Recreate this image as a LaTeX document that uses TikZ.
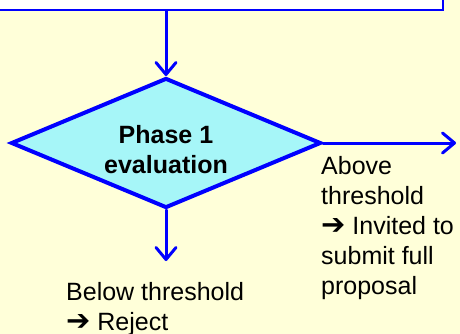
\documentclass[tikz,border=0pt]{standalone}
\usepackage{fontspec}
\setmainfont{Liberation Sans}
\newfontfamily\symfont{DejaVu Sans}
\usepackage{xcolor}
\usepackage{tikz}
\usetikzlibrary{shapes.geometric,arrows.meta,positioning,calc}
\definecolor{paper}{RGB}{255,255,217}
\definecolor{decfill}{RGB}{166,246,248}
\newcommand{\thenarrow}{{\symfont\fontsize{29}{30}\selectfont ➔}}
\tikzset{
	decision/.style={diamond,draw=blue,line width=4pt,fill=decfill,minimum width=310pt,minimum height=130pt,inner sep=0pt},
	flow/.style={draw=blue,line width=3pt,line cap=round,-{Straight Barb[length=12pt,width=20pt,round]}},
	outcome/.style={align=left,inner sep=0pt,font=\fontsize{25}{30}\selectfont}
}
\begin{document}
\begin{tikzpicture}[x=1pt,y=-1pt]
		\clip (0,0) rectangle (460,334);
		\fill[paper] (0,0) rectangle (460,334);
		\node (intro) [draw=blue,line width=1.5pt,fill=white,minimum width=460pt,minimum height=40pt,inner sep=0pt] at (213,-10) {};
		\node (eval) [decision] at (166,143) {};
		\node (evaltext) [align=center,inner sep=0pt,anchor=north,font=\bfseries\fontsize{25}{30}\selectfont] at (166,125) {Phase 1\\evaluation};
		\coordinate (pass) at (456,143);
		\coordinate (fail) at (166,261);
		\draw[flow] (intro.south -| eval.north) -- (eval.north);
		\draw[flow] (eval.east) -- (pass);
		\draw[flow] (eval.south) -- (fail);
		\node (above) [outcome,anchor=north west] at (321,156) {Above\\threshold\\\thenarrow\ Invited to\\submit full\\proposal};
		\node (below) [outcome,anchor=north west] at (66,282) {Below threshold\\\thenarrow\ Reject};
	\end{tikzpicture}
\end{document}
